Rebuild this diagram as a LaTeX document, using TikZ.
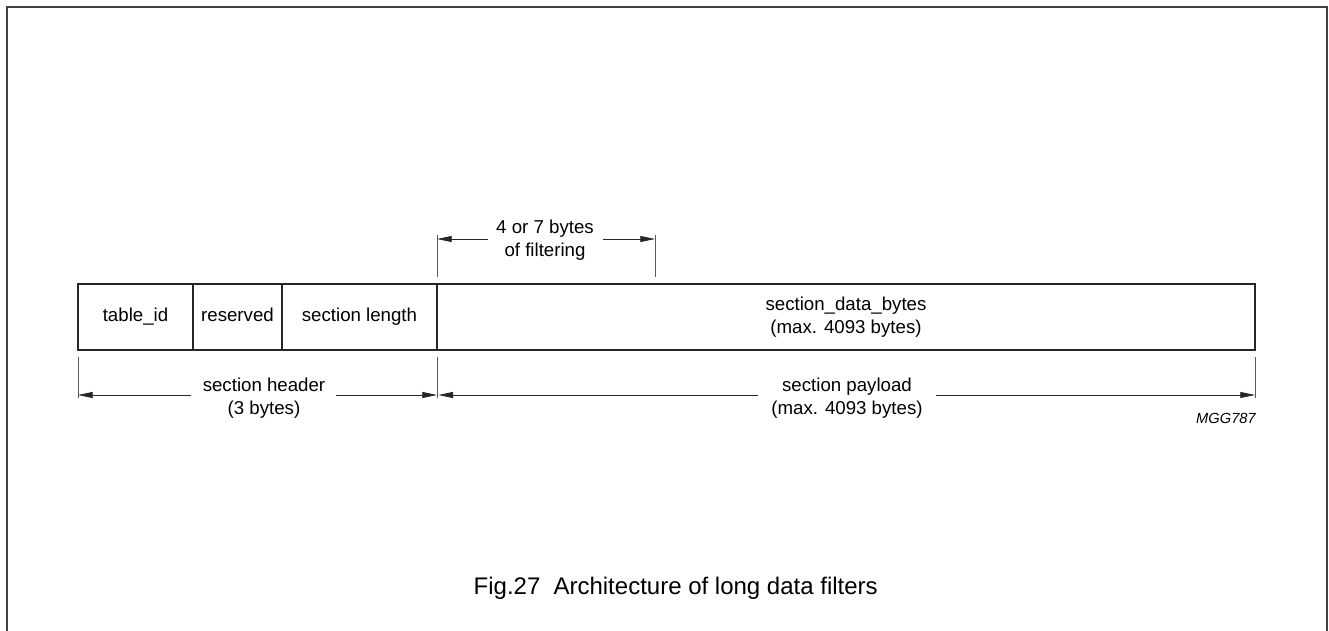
\documentclass[tikz,border=0pt]{standalone}
\usepackage{fontspec}
\setmainfont{Liberation Sans}
\usetikzlibrary{arrows.meta, positioning}

\begin{document}
\begin{tikzpicture}[
    x=0.75pt, y=-0.75pt,
    font=\fontsize{14}{17.25}\selectfont,
    cell/.style={rectangle, draw=black!85, line width=1.1pt, minimum height=49.5pt, inner sep=0pt, outer sep=0pt, align=center},
    onerow/.style={cell, text height=10pt, text depth=3pt},
    tick/.style={draw=black!65, line width=0.7pt},
    dim/.style={-{Triangle[length=11pt, width=4.5pt]}, line width=0.6pt, draw=black!85},
    dimlabel/.style={align=center, inner sep=0pt},
    frame/.style={draw=black!75, line width=1.5pt}
]
\useasboundingbox (0,0) rectangle (1329,631);
% ---------------- FRAME ----------------
\coordinate (fbl) at (7,633);
\coordinate (ftr) at (1327,7);
\coordinate (fbr) at (1327,633);
\draw[frame] (fbl) |- (ftr) -- (fbr);
% ---------------- SECTION FIELDS ----------------
\node[onerow, minimum width=86.25pt, anchor=north west] (tableid) at (78,284) {table\_id};
\node[onerow, minimum width=66.75pt, right=0pt of tableid] (reserved) {reserved};
\node[onerow, minimum width=116.25pt, right=0pt of reserved] (seclen) {section length};
\node[cell, minimum width=613.5pt, right=0pt of seclen] (databytes) {section\_data\_bytes\\(max. 4093 bytes)};
% ---------------- FILTERING SPAN ----------------
\coordinate (filtL) at (437,235);
\coordinate (filtR) at (655,235);
\coordinate (filtLa) at (437,239);
\coordinate (filtRa) at (655,239);
\draw[tick] (filtL) -- ++(0,42);
\draw[tick] (filtR) -- ++(0,42);
\node[dimlabel] (filtlbl) at (545,240.5) {4 or 7 bytes\\of filtering};
\draw[dim] ([xshift=-6pt]filtlbl.west |- filtLa) -- (filtLa);
\draw[dim] ([xshift=7pt]filtlbl.east |- filtRa) -- (filtRa);
% ---------------- HEADER / PAYLOAD SPANS ----------------
\coordinate (hdrL) at (78,357);
\coordinate (hdrR) at (437,357);
\coordinate (payR) at (1255,357);
\foreach \c in {hdrL, hdrR, payR}
    \draw[tick] (\c) -- ++(0,41);
\coordinate (hdrLa) at (78,395);
\coordinate (hdrRa) at (437,395);
\coordinate (payRa) at (1255,395);
\node[dimlabel] (hdrlbl) at (264,398.5) {section header\\(3 bytes)};
\node[dimlabel] (paylbl) at (847,398.5) {section payload\\(max. 4093 bytes)};
\draw[dim] ([xshift=-9pt]hdrlbl.west |- hdrLa) -- (hdrLa);
\draw[dim] ([xshift=8pt]hdrlbl.east |- hdrRa) -- (hdrRa);
\draw[dim] ([xshift=-10pt]paylbl.west |- hdrRa) -- ([xshift=1pt]hdrRa);
\draw[dim] ([xshift=10pt]paylbl.east |- payRa) -- (payRa);
\node[anchor=east, inner sep=0pt, font=\fontsize{11}{13}\selectfont\itshape] (mgg) at (1256,418) {MGG787};
% ---------------- CAPTION ----------------
\node[anchor=east, inner sep=0pt, font=\fontsize{18}{21}\selectfont] (caption) at (878,588) {Fig.27\hspace{0.55em}Architecture of long data filters};
\end{tikzpicture}
\end{document}
